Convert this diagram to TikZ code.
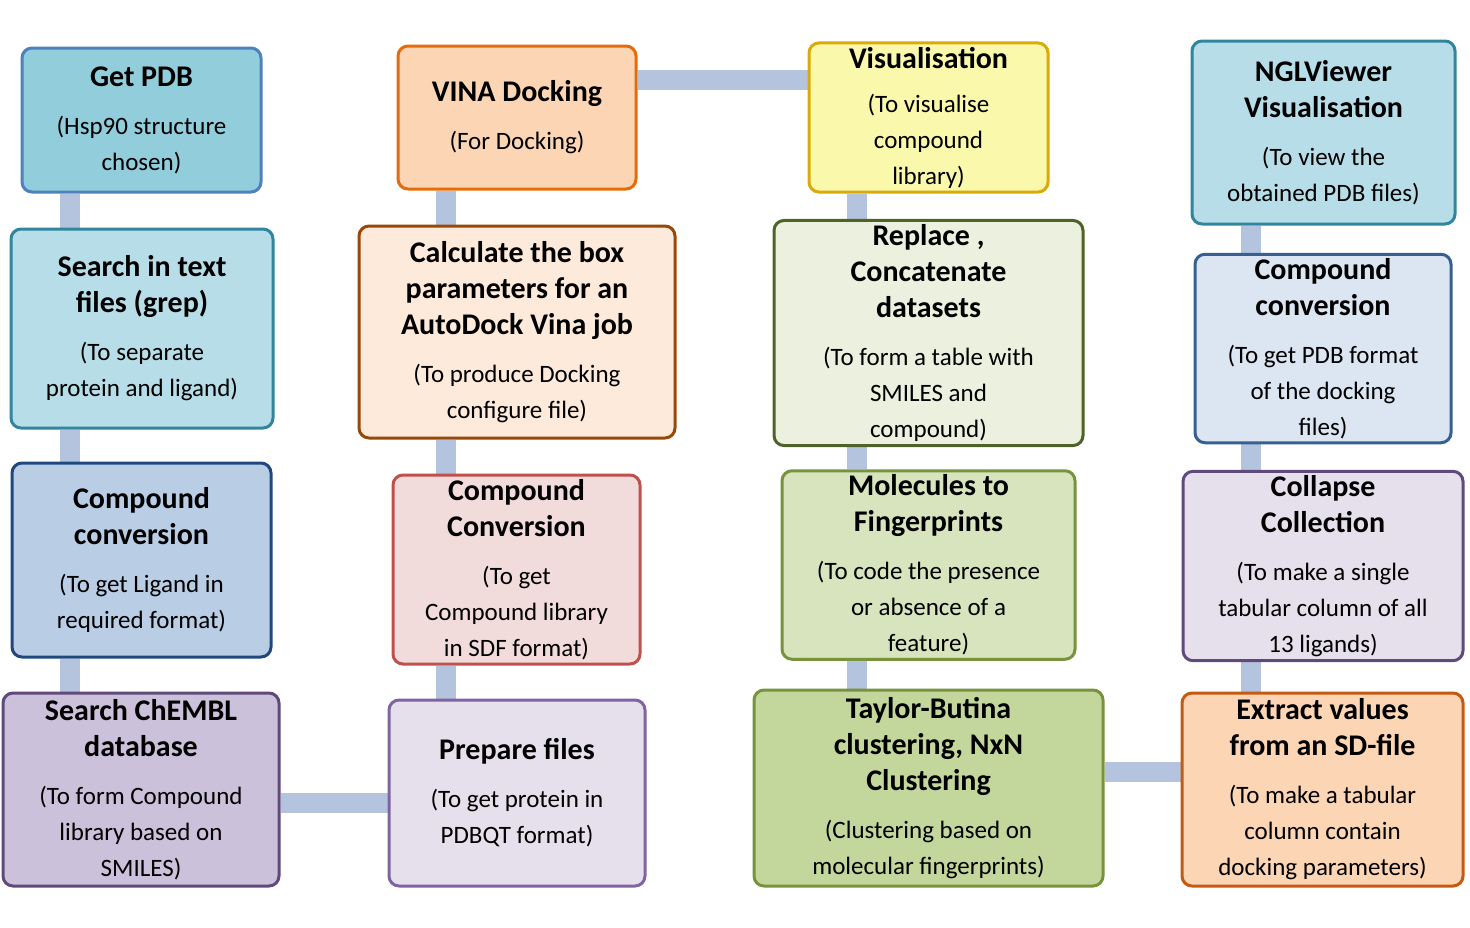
\documentclass[tikz,border=0pt]{standalone}
\usepackage{fontspec}
\setmainfont{Carlito}
\usetikzlibrary{backgrounds}
\definecolor{linkc}{RGB}{180,196,222}
\definecolor{fa}{RGB}{146,205,220}\definecolor{da}{RGB}{79,129,189}
\definecolor{fb}{RGB}{183,222,232}\definecolor{db}{RGB}{49,133,156}
\definecolor{fc}{RGB}{185,205,229}\definecolor{dc}{RGB}{31,73,125}
\definecolor{fd}{RGB}{204,193,218}\definecolor{dd}{RGB}{96,74,123}
\definecolor{fe}{RGB}{252,213,181}\definecolor{de}{RGB}{228,108,10}
\definecolor{ff}{RGB}{253,234,218}\definecolor{dff}{RGB}{152,72,7}
\definecolor{fg}{RGB}{242,220,219}\definecolor{dg}{RGB}{192,80,77}
\definecolor{fh}{RGB}{230,224,236}\definecolor{dh}{RGB}{128,100,162}
\definecolor{fi}{RGB}{250,248,170}\definecolor{di}{RGB}{218,170,10}
\definecolor{fj}{RGB}{235,241,222}\definecolor{dj}{RGB}{79,98,40}
\definecolor{fk}{RGB}{215,228,189}\definecolor{dk}{RGB}{119,147,60}
\definecolor{fl}{RGB}{195,214,155}
\definecolor{fm}{RGB}{220,230,242}\definecolor{dm}{RGB}{55,96,146}
\definecolor{dn}{RGB}{197,90,17}
\tikzset{
  box/.style={draw, line width=1.5pt, rounded corners=5pt, align=center, inner sep=2pt,
    font=\fontsize{15}{18}\selectfont\bfseries},
  link/.style={linkc, line width=10pt},
}
\newcommand{\subf}{\fontsize{12.5}{16}\selectfont\mdseries}
\begin{document}
\begin{tikzpicture}[x=0.5pt,y=-0.5pt]
\useasboundingbox (0,0) rectangle (1470,927);
% column 1
\node[box, fill=fa, draw=da, minimum width=119.5pt, minimum height=72pt] (getpdb) at (141.5,120)
  {Get PDB\\[6pt]\subf (Hsp90 structure\\\subf chosen)};
\node[box, fill=fb, draw=db, minimum width=131pt, minimum height=99.5pt] (grep) at (142,328.5)
  {Search in text\\files (grep)\\[6pt]\subf (To separate\\\subf protein and ligand)};
\node[box, fill=fc, draw=dc, minimum width=129.5pt, minimum height=97pt] (conva) at (141.5,560)
  {Compound\\conversion\\[6pt]\subf (To get Ligand in\\\subf required format)};
\node[box, fill=fd, draw=dd, minimum width=138pt, minimum height=96.5pt] (chembl) at (141,789.5)
  {Search ChEMBL\\database\\[6pt]\subf (To form Compound\\\subf library based on\\\subf SMILES)};
% column 2
\node[box, fill=fe, draw=de, minimum width=119pt, minimum height=71.5pt] (vina) at (517,117.5)
  {VINA Docking\\[6pt]\subf (For Docking)};
\node[box, fill=ff, draw=dff, minimum width=158pt, minimum height=106pt] (calc) at (517,332)
  {Calculate the box\\parameters for an\\AutoDock Vina job\\[6pt]\subf (To produce Docking\\\subf configure file)};
\node[box, fill=fg, draw=dg, minimum width=123.5pt, minimum height=94.5pt] (convb) at (516.5,569.5)
  {Compound\\Conversion\\[6pt]\subf (To get\\\subf Compound library\\\subf in SDF format)};
\node[box, fill=fh, draw=dh, minimum width=128pt, minimum height=93pt] (prep) at (517,793)
  {Prepare files\\[6pt]\subf (To get protein in\\\subf PDBQT format)};
% column 3
\node[box, fill=fi, draw=di, minimum width=119.5pt, minimum height=71.5pt] (vis) at (928.5,117.5)
  {Visualisation\\[4pt]\subf (To visualise\\\subf compound\\\subf library)};
\node[box, fill=fj, draw=dj, minimum width=154.5pt, minimum height=107pt] (repl) at (928.5,333)
  {Replace ,\\Concatenate\\datasets\\[6pt]\subf (To form a table with\\\subf SMILES and\\\subf compound)};
\node[box, fill=fk, draw=dk, minimum width=146.5pt, minimum height=89pt] (fing) at (928.5,565)
  {Molecules to\\Fingerprints\\[6pt]\subf (To code the presence\\\subf or absence of a\\\subf feature)};
\node[box, fill=fl, draw=dk, minimum width=174.5pt, minimum height=98pt] (butina) at (928.5,788)
  {Taylor-Butina\\clustering, NxN\\Clustering\\[6pt]\subf (Clustering based on\\\subf molecular fingerprints)};
% column 4
\node[box, fill=fb, draw=db, minimum width=131.5pt, minimum height=91.5pt] (ngl) at (1323.5,132.5)
  {NGLViewer\\Visualisation\\[6pt]\subf (To view the\\\subf obtained PDB files)};
\node[box, fill=fm, draw=dm, minimum width=128pt, minimum height=88.5pt] (convc) at (1323,348.5)
  {Compound\\conversion\\[6pt]\subf (To get PDB format\\\subf of the docking\\\subf files)};
\node[box, fill=fh, draw=dd, minimum width=140pt, minimum height=92pt] (coll) at (1323,566)
  {Collapse\\Collection\\[6pt]\subf (To make a single\\\subf tabular column of all\\\subf 13 ligands)};
\node[box, fill=fe, draw=dn, minimum width=140.5pt, minimum height=96.5pt] (extr) at (1322.5,789.5)
  {Extract values\\from an SD-file\\[6pt]\subf (To make a tabular\\\subf column contain\\\subf docking parameters)};
% connectors
\begin{scope}[on background layer]
\draw[link] (getpdb.south -| 70,0) -- (grep.north -| 70,0);
\draw[link] (grep.south -| 70,0) -- (conva.north -| 70,0);
\draw[link] (conva.south -| 70,0) -- (chembl.north -| 70,0);
\draw[link] (chembl.east |- 0,803) -- (prep.west |- 0,803);
\draw[link] (prep.north -| 446,0) -- (convb.south -| 446,0);
\draw[link] (convb.north -| 446,0) -- (calc.south -| 446,0);
\draw[link] (calc.north -| 446,0) -- (vina.south -| 446,0);
\draw[link] (vina.east |- 0,80) -- (vis.west |- 0,80);
\draw[link] (vis.south -| 857,0) -- (repl.north -| 857,0);
\draw[link] (repl.south -| 857,0) -- (fing.north -| 857,0);
\draw[link] (fing.south -| 857,0) -- (butina.north -| 857,0);
\draw[link] (butina.east |- 0,772) -- (extr.west |- 0,772);
\draw[link] (extr.north -| 1251,0) -- (coll.south -| 1251,0);
\draw[link] (coll.north -| 1251,0) -- (convc.south -| 1251,0);
\draw[link] (convc.north -| 1251,0) -- (ngl.south -| 1251,0);
\end{scope}
\end{tikzpicture}
\end{document}
